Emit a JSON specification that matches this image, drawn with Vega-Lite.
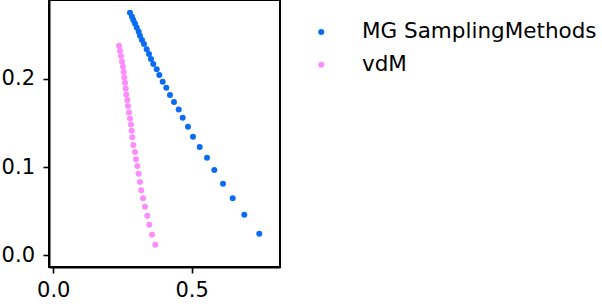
{
  "$schema": "https://vega.github.io/schema/vega-lite/v6.json",
  "width": 231,
  "height": 267,
  "autosize": {"type": "none"},
  "padding": {"left": 49, "top": 0, "right": 322, "bottom": 41},
  "background": "white",
  "config": {
    "font": "DejaVu Sans",
    "view": {"stroke": "black", "strokeWidth": 2},
    "axis": {"grid": false, "domainColor": "black", "domainWidth": 2, "tickColor": "black", "tickWidth": 1.6, "tickSize": 6, "labelFont": "DejaVu Sans", "labelFontSize": 21, "labelColor": "black", "title": null}
  },
  "data": {"values": [
    {"method": "MG SamplingMethods", "x": 0.2771, "y": 0.2751},
    {"method": "MG SamplingMethods", "x": 0.2843, "y": 0.2706},
    {"method": "MG SamplingMethods", "x": 0.2890, "y": 0.2668},
    {"method": "MG SamplingMethods", "x": 0.2952, "y": 0.2630},
    {"method": "MG SamplingMethods", "x": 0.3013, "y": 0.2585},
    {"method": "MG SamplingMethods", "x": 0.3085, "y": 0.2535},
    {"method": "MG SamplingMethods", "x": 0.3132, "y": 0.2490},
    {"method": "MG SamplingMethods", "x": 0.3204, "y": 0.2441},
    {"method": "MG SamplingMethods", "x": 0.3277, "y": 0.2396},
    {"method": "MG SamplingMethods", "x": 0.3374, "y": 0.2336},
    {"method": "MG SamplingMethods", "x": 0.3457, "y": 0.2282},
    {"method": "MG SamplingMethods", "x": 0.3530, "y": 0.2226},
    {"method": "MG SamplingMethods", "x": 0.3613, "y": 0.2169},
    {"method": "MG SamplingMethods", "x": 0.3736, "y": 0.2109},
    {"method": "MG SamplingMethods", "x": 0.3830, "y": 0.2044},
    {"method": "MG SamplingMethods", "x": 0.3952, "y": 0.1968},
    {"method": "MG SamplingMethods", "x": 0.4082, "y": 0.1900},
    {"method": "MG SamplingMethods", "x": 0.4216, "y": 0.1817},
    {"method": "MG SamplingMethods", "x": 0.4360, "y": 0.1738},
    {"method": "MG SamplingMethods", "x": 0.4530, "y": 0.1655},
    {"method": "MG SamplingMethods", "x": 0.4675, "y": 0.1560},
    {"method": "MG SamplingMethods", "x": 0.4866, "y": 0.1458},
    {"method": "MG SamplingMethods", "x": 0.5047, "y": 0.1345},
    {"method": "MG SamplingMethods", "x": 0.5289, "y": 0.1228},
    {"method": "MG SamplingMethods", "x": 0.5553, "y": 0.1107},
    {"method": "MG SamplingMethods", "x": 0.5817, "y": 0.0967},
    {"method": "MG SamplingMethods", "x": 0.6131, "y": 0.0812},
    {"method": "MG SamplingMethods", "x": 0.6481, "y": 0.0646},
    {"method": "MG SamplingMethods", "x": 0.6900, "y": 0.0460},
    {"method": "MG SamplingMethods", "x": 0.7442, "y": 0.0245},
    {"method": "vdM", "x": 0.2374, "y": 0.2376},
    {"method": "vdM", "x": 0.2410, "y": 0.2320},
    {"method": "vdM", "x": 0.2446, "y": 0.2260},
    {"method": "vdM", "x": 0.2482, "y": 0.2195},
    {"method": "vdM", "x": 0.2518, "y": 0.2138},
    {"method": "vdM", "x": 0.2543, "y": 0.2078},
    {"method": "vdM", "x": 0.2565, "y": 0.2018},
    {"method": "vdM", "x": 0.2590, "y": 0.1957},
    {"method": "vdM", "x": 0.2616, "y": 0.1893},
    {"method": "vdM", "x": 0.2637, "y": 0.1825},
    {"method": "vdM", "x": 0.2673, "y": 0.1761},
    {"method": "vdM", "x": 0.2699, "y": 0.1693},
    {"method": "vdM", "x": 0.2735, "y": 0.1621},
    {"method": "vdM", "x": 0.2771, "y": 0.1553},
    {"method": "vdM", "x": 0.2807, "y": 0.1485},
    {"method": "vdM", "x": 0.2832, "y": 0.1413},
    {"method": "vdM", "x": 0.2854, "y": 0.1338},
    {"method": "vdM", "x": 0.2890, "y": 0.1251},
    {"method": "vdM", "x": 0.2952, "y": 0.1171},
    {"method": "vdM", "x": 0.2988, "y": 0.1088},
    {"method": "vdM", "x": 0.3035, "y": 0.1012},
    {"method": "vdM", "x": 0.3085, "y": 0.0925},
    {"method": "vdM", "x": 0.3132, "y": 0.0831},
    {"method": "vdM", "x": 0.3179, "y": 0.0737},
    {"method": "vdM", "x": 0.3241, "y": 0.0646},
    {"method": "vdM", "x": 0.3313, "y": 0.0551},
    {"method": "vdM", "x": 0.3396, "y": 0.0449},
    {"method": "vdM", "x": 0.3468, "y": 0.0347},
    {"method": "vdM", "x": 0.3566, "y": 0.0234},
    {"method": "vdM", "x": 0.3685, "y": 0.0120}
  ]},
  "mark": {"type": "point", "filled": true, "size": 36, "opacity": 1, "strokeWidth": 0},
  "encoding": {
    "x": {"field": "x", "type": "quantitative", "scale": {"domain": [-0.0155, 0.819], "nice": false, "zero": false},
      "axis": {"values": [0, 0.5], "format": ".1f", "labelPadding": 6}},
    "y": {"field": "y", "type": "quantitative", "scale": {"domain": [-0.0133, 0.2896], "nice": false, "zero": false},
      "axis": {"values": [0, 0.1, 0.2], "format": ".1f", "labelPadding": 8.5}},
    "color": {"field": "method", "type": "nominal",
      "scale": {"domain": ["MG SamplingMethods", "vdM"], "range": ["#0a6cf2", "#fd8cfd"]},
      "legend": {"title": null, "orient": "none", "legendX": 261.5, "legendY": 21.3, "padding": 0,
        "symbolType": "circle", "symbolSize": 36, "symbolStrokeWidth": 0, "symbolOpacity": 1,
        "labelFont": "DejaVu Sans", "labelFontSize": 21.5, "labelColor": "black", "labelOffset": 30,
        "rowPadding": 9.7, "labelLimit": 400}}
  }
}
